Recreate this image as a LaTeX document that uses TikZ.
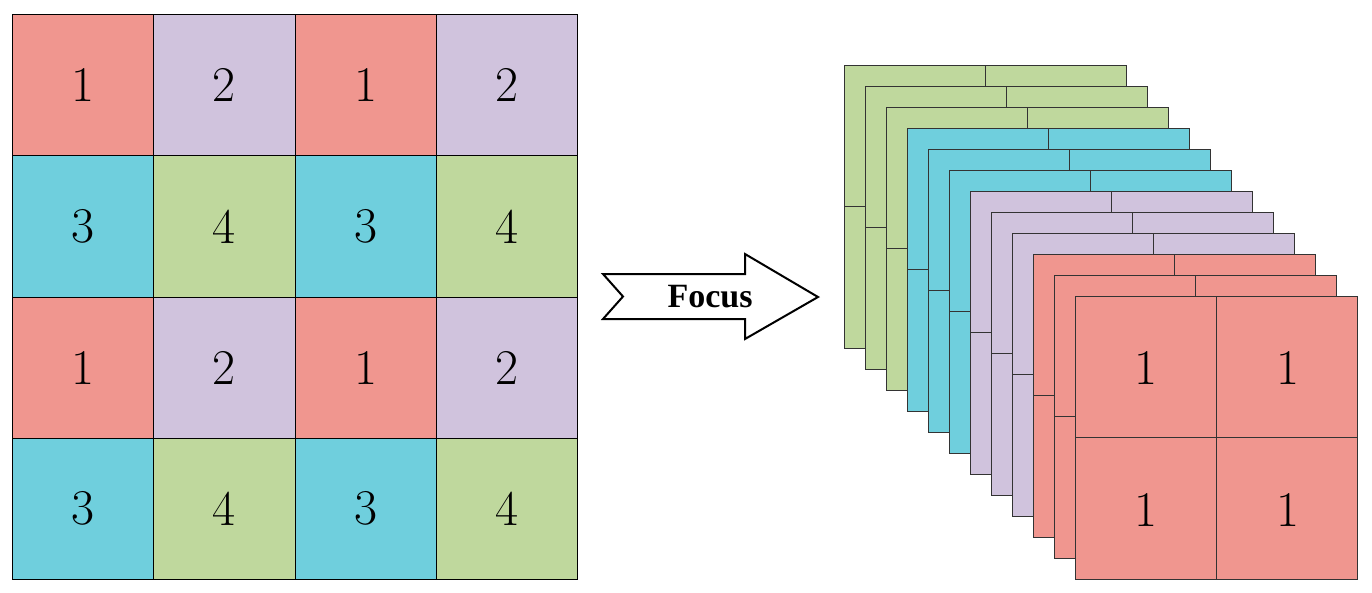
\documentclass[tikz,border=0pt]{standalone}
\usepackage{fontspec}
\newfontfamily\timesf{Liberation Serif}
\begin{document}
\definecolor{cr}{HTML}{F0968F}
\definecolor{cp}{HTML}{D0C3DD}
\definecolor{cc}{HTML}{6FCFDD}
\definecolor{cg}{HTML}{BFD89D}
\begin{tikzpicture}[x=1pt,y=-1pt,
  cell/.style={draw=black,line width=0.8pt,minimum width=141.25pt,minimum height=141.25pt,inner sep=0pt,font=\fontsize{50}{56}\selectfont,anchor=north west},
  layer/.style={draw=black!80,line width=0.8pt}]
\useasboundingbox (0,0) rectangle (1372,592);
% left grid
\foreach \r/\cols in {0/{1,2,1,2},1/{3,4,3,4},2/{1,2,1,2},3/{3,4,3,4}}{
  \foreach \v [count=\c from 0] in \cols {
    \ifcase\v\or\def\fc{cr}\or\def\fc{cp}\or\def\fc{cc}\or\def\fc{cg}\fi
    \node[cell,fill=\fc] (g\r\c) at ({12+141.25*\c},{14+141.25*\r}) {\v};
  }
}
% arrow
\node[font=\timesf\bfseries\fontsize{34}{38}\selectfont] (focus) at (710,297) {Focus};
\draw[line width=2pt,fill=white] (603,274) -- (745,274) -- (745,254) -- (818,297) -- (745,339) -- (745,319) -- (603,319) -- (623,296.5) -- cycle;
\node[font=\timesf\bfseries\fontsize{34}{38}\selectfont] at (focus) {Focus};
% stack
\foreach \i/\fc in {0/cg,1/cg,2/cg,3/cc,4/cc,5/cc,6/cp,7/cp,8/cp,9/cr,10/cr,11/cr}{
  \pgfmathsetmacro\xo{844+21*\i}
  \pgfmathsetmacro\yo{65+21*\i}
  \draw[layer,fill=\fc] (\xo,\yo) rectangle ++(282,283);
  \draw[layer] (\xo+141,\yo) -- ++(0,283);
  \draw[layer] (\xo,\yo+141.5) -- ++(282,0);
}
\foreach \n/\px/\py in {a/1146/368,b/1288/368,c/1146/510,d/1288/510}
  \node[font=\fontsize{50}{56}\selectfont] (f\n) at (\px,\py) {1};
\end{tikzpicture}
\end{document}
